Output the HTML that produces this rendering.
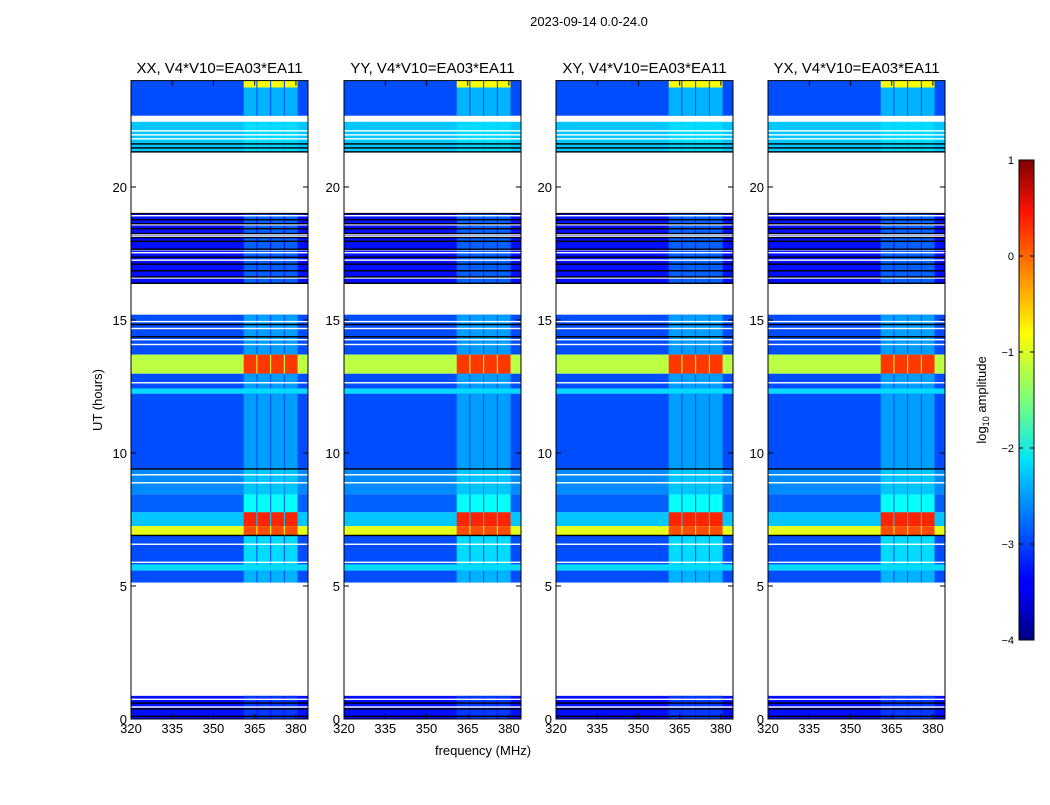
<!DOCTYPE html>
<html><head><meta charset="utf-8">
<style>
body{margin:0;background:#fff;}
svg text{font-family:"Liberation Sans",sans-serif;fill:#000;}
</style></head>
<body>
<svg id="fig" width="1050" height="800" xmlns="http://www.w3.org/2000/svg">
<defs>
<linearGradient id="jet" x1="0" y1="1" x2="0" y2="0">
<stop offset="0" stop-color="#00007f"/><stop offset="0.11" stop-color="#0000ff"/>
<stop offset="0.125" stop-color="#0000ff"/><stop offset="0.34" stop-color="#00c0ff"/>
<stop offset="0.375" stop-color="#00e4f8"/><stop offset="0.5" stop-color="#7dff7a"/>
<stop offset="0.64" stop-color="#ffff00"/><stop offset="0.66" stop-color="#ffea00"/>
<stop offset="0.89" stop-color="#ff1300"/><stop offset="1" stop-color="#7f0000"/>
</linearGradient>
</defs>
<text x="589" y="26" font-size="13" text-anchor="middle">2023-09-14 0.0-24.0</text>
<text transform="translate(102,400) rotate(-90)" font-size="13" text-anchor="middle">UT (hours)</text>
<text x="483" y="755" font-size="13" text-anchor="middle">frequency (MHz)</text>
<g id="panels"></g>
<g>
<rect x="1019" y="160" width="15" height="480" fill="url(#jet)" stroke="#000" stroke-width="1"/>
</g>
<g id="cbticks"></g>
<text transform="translate(986,400) rotate(-90)" font-size="13" text-anchor="middle">log<tspan font-size="9" dy="3">10</tspan><tspan dy="-3"> amplitude</tspan></text>
</svg>
<script>
// time bands: start hour, end hour
const bandStart=[23.74,22.68,21.32,16.38,13.70,12.98,12.42,12.23,9.40,8.45,7.77,7.25,6.90,5.81,5.58,5.13,0.00];
const bandEnd  =[24.00,23.74,22.45,19.02,15.20,13.70,12.98,12.42,12.23,9.40,8.45,7.77,7.25,6.90,5.81,5.58,0.87];
const bandLevel=[-3.0,-3.0,-2.4,-3.3,-3.0,-1.2,-3.0,-2.3,-3.0,-2.7,-2.9,-2.4,-1.0,-3.0,-2.3,-3.0,-3.3];
const burstLevel=[-0.9,-2.5,-2.3,-2.9,-2.6,0.1,-2.6,-2.3,-2.6,-2.4,-2.1,0.2,0.0,-2.3,-2.3,-2.5,-3.1];
const burstF0=[361,366,371,376];
const burstF1=[365.6,370.6,375.6,380.6];
const whiteLines=[22.11,21.96,21.81,18.92,18.58,18.21,18.14,17.64,17.53,17.25,16.58,14.94,14.68,14.26,14.08,12.64,9.18,8.88,6.57,5.89,0.74,0.45];
const blackLines=[21.62,21.47,21.32,19.0,18.77,18.62,18.43,18.25,18.1,17.96,17.66,17.36,17.1,16.85,16.62,16.38,14.83,14.37,9.4,6.9,0.6,0.38,0.1];
const panelTitles=["XX, V4*V10=EA03*EA11","YY, V4*V10=EA03*EA11","XY, V4*V10=EA03*EA11","YX, V4*V10=EA03*EA11"];
const panelX=[131,344,556,768];
const xTicks=[320,335,350,365,380];
const yTicks=[0,5,10,15,20];
const cbTicks=[1,0,-1,-2,-3,-4];

const NS="http://www.w3.org/2000/svg";
const W=177,TOP=80.6,BOT=719;
function yS(h){return BOT-(h/24)*(BOT-TOP);}
function xS(f){return (f-320)/(384.4-320)*W;}
function jet(v){
  let t=Math.max(0,Math.min(1,(v+4)/5));
  function c(x){return Math.max(0,Math.min(1,x));}
  let r=c(1.5-Math.abs(4*t-3)),g=c(1.5-Math.abs(4*t-2)),b=c(1.5-Math.abs(4*t-1));
  return `rgb(${Math.round(r*255)},${Math.round(g*255)},${Math.round(b*255)})`;
}
function mk(tag,attrs,parent){const e=document.createElementNS(NS,tag);for(const k in attrs)e.setAttribute(k,attrs[k]);parent.appendChild(e);return e;}
const panels=document.getElementById('panels');
panelX.forEach((px,pi)=>{
  const g=mk('g',{transform:`translate(${px},0)`},panels);
  
  
  bandStart.forEach((s,i)=>{
    const y0=yS(bandEnd[i]),y1=yS(s);
    const r=mk('rect',{x:0,y:y0,width:W,height:y1-y0,fill:jet(bandLevel[i])},g);
    
    
    burstF0.forEach((f,j)=>{
      const b=mk('rect',{x:xS(f),y:y0,width:xS(burstF1[j])-xS(f),height:y1-y0,fill:jet(burstLevel[i])},g);
      
      
    });
  });
  whiteLines.forEach(h=>{const l=mk('rect',{x:0,y:yS(h)-0.7,width:W,height:1.4,fill:'#fff'},g);
    });
  blackLines.forEach(h=>{const l=mk('rect',{x:0,y:yS(h)-0.7,width:W,height:1.4,fill:'#000'},g);
    });
  const fr=mk('rect',{x:0,y:TOP,width:W,height:BOT-TOP,fill:'none',stroke:'#000','stroke-width':1},g);
  
  const t=mk('text',{x:W/2,y:73,'font-size':15,'text-anchor':'middle'},g);t.textContent=panelTitles[pi];
  
  xTicks.forEach(f=>{const x=xS(f);
    mk('line',{x1:x,x2:x,y1:BOT,y2:BOT-5,stroke:'#000'},g);mk('line',{x1:x,x2:x,y1:TOP,y2:TOP+5,stroke:'#000'},g);
    const tx=mk('text',{x:x,y:BOT+14,'font-size':13,'text-anchor':'middle'},g);tx.textContent=f;
    });
  yTicks.forEach(h=>{const y=yS(h);
    mk('line',{x1:0,x2:5,y1:y,y2:y,stroke:'#000'},g);mk('line',{x1:W,x2:W-5,y1:y,y2:y,stroke:'#000'},g);
    const ty=mk('text',{x:-4,y:y+5,'font-size':13,'text-anchor':'end'},g);ty.textContent=h;
    });
});
const cb=document.getElementById('cbticks');
cbTicks.forEach(v=>{const y=160+(1-v)/5*480;
  mk('line',{x1:1019,x2:1023,y1:y,y2:y,stroke:'#000'},cb);mk('line',{x1:1034,x2:1030,y1:y,y2:y,stroke:'#000'},cb);
  const t=mk('text',{x:1014,y:y+4,'font-size':11,'text-anchor':'end'},cb);t.textContent=v<0?'\u2212'+(-v):v;
  });
</script>
</body></html>
